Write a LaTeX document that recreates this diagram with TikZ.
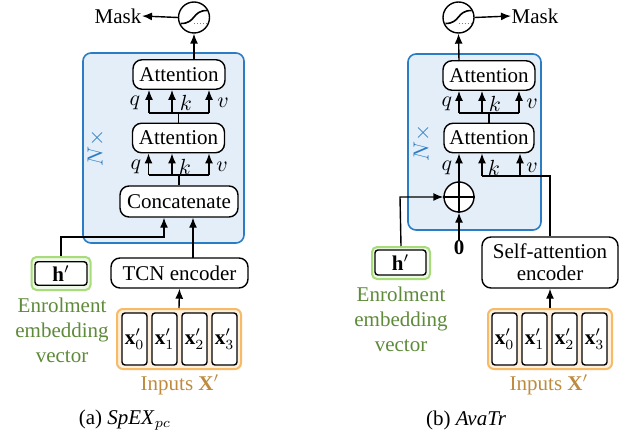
\documentclass[tikz,border=0pt]{standalone}
\usepackage{fontspec}
\setmainfont{Liberation Serif}
\usetikzlibrary{arrows.meta,calc}
\definecolor{blueB}{HTML}{2A7DC4}
\definecolor{blueF}{HTML}{E4EEF9}
\definecolor{greenB}{HTML}{A8DC7A}
\definecolor{greenF}{HTML}{EEF8E6}
\definecolor{greenT}{HTML}{5E8A3A}
\definecolor{orangeB}{HTML}{F7BA66}
\definecolor{orangeF}{HTML}{FDF0DE}
\definecolor{orangeT}{HTML}{BE8B3E}
\begin{document}
\begin{tikzpicture}[x=0.5pt,y=-0.5pt, font=\fontsize{10.5}{12.5}\selectfont, line width=0.7pt,
  arr/.style={-{Latex[length=5pt,width=4pt]}},
  rbox/.style={draw, rounded corners=4.5pt, fill=white, inner sep=0pt, align=center},
  attbox/.style={rbox, minimum width=46pt, minimum height=14.75pt},
  sig/.style={draw, circle, fill=white, minimum size=15.5pt, inner sep=0pt},
  sigcurve/.style={line width=0.8pt},
  sigdot/.style={gray, densely dotted, line width=0.5pt},
  blk/.style={draw=blueB, fill=blueF, rounded corners=4pt, line width=0.8pt},
  gbox/.style={draw=greenB, fill=greenF, rounded corners=2.5pt, line width=1pt, minimum width=29.5pt, minimum height=16.5pt, inner sep=0pt},
  hbox/.style={draw, fill=white, rounded corners=1.5pt, minimum width=26pt, minimum height=11.75pt, inner sep=0pt},
  obox/.style={draw=orangeB, fill=orangeF, rounded corners=3pt, line width=1pt, minimum width=62pt, minimum height=30pt, inner sep=0pt},
  xbox/.style={draw, fill=white, rounded corners=1.5pt, minimum width=12.5pt, minimum height=26pt, inner sep=0pt},
  lbl/.style={inner sep=0pt}
]
\useasboundingbox (0,0) rectangle (636,443);

%================ LEFT (a) =================
\draw[blk] (83,53) rectangle (244,243);
\node[text=blueB, rotate=90] (nL) at (96,148) {$N\times$};

\node[attbox] (att1L) at (179,74.5) {Attention};
\node[attbox] (att2L) at (178.5,138) {Attention};
\node[rbox, minimum width=59pt, minimum height=15.5pt] (catL) at (179,201.5) {Concatenate};
\node[rbox, minimum width=68.5pt, minimum height=15pt] (tcnL) at (179.5,273) {TCN encoder};

\node[sig] (sigL) at (194,17.5) {};
\draw[sigdot] ($(sigL)+(0,6)$) -- ($(sigL)+(13,6)$);
\draw[sigcurve] ($(sigL)+(-13,6)$) .. controls ($(sigL)+(2,6)$) and ($(sigL)+(-2,-7)$) .. ($(sigL)+(13,-7)$);
\node[lbl] (maskL) at (118,16) {Mask};

\node[gbox] (hgL) at (61,273.5) {};
\node[hbox] (hL) at (61,273.5) {$\mathbf{h}'$};
\node[text=greenT, align=center] (enL) at (62,330) {Enrolment\\embedding\\vector};

\node[obox] (inL) at (179,339) {};
\node[xbox] (x0L) at (134.5,339) {$\mathbf{x}'_0$};
\node[xbox] (x1L) at (164.5,339) {$\mathbf{x}'_1$};
\node[xbox] (x2L) at (194.5,339) {$\mathbf{x}'_2$};
\node[xbox] (x3L) at (224.5,339) {$\mathbf{x}'_3$};
\node[text=orangeT] (inTL) at (180,385) {Inputs $\mathbf{X}'$};

% connectors left
\coordinate (upL) at (194,60);
\draw[arr] (upL) -- (sigL.south);
\draw[arr] (sigL.west) -- (maskL.east);

\coordinate (b1L) at (178.5,113);
\coordinate (q1L) at (149,113);
\coordinate (k1L) at (172,113);
\coordinate (v1L) at (209,113);
\draw (att2L.north) -- (b1L);
\draw (q1L) -- (v1L);
\draw[arr] (q1L) -- (q1L |- att1L.south);
\draw[arr] (k1L) -- (k1L |- att1L.south);
\draw[arr] (v1L) -- (v1L |- att1L.south);
\node[lbl] at (135,103) {$q$};
\node[lbl] at (186,103) {$k$};
\node[lbl] at (223,103) {$v$};

\coordinate (b2L) at (179,175);
\coordinate (q2L) at (148.5,175);
\coordinate (k2L) at (172,175);
\coordinate (v2L) at (209,175);
\draw (catL.north) -- (b2L);
\draw (q2L) -- (v2L);
\draw[arr] (q2L) -- (q2L |- att2L.south);
\draw[arr] (k2L) -- (k2L |- att2L.south);
\draw[arr] (v2L) -- (v2L |- att2L.south);
\node[lbl] at (136,167) {$q$};
\node[lbl] at (185,167) {$k$};
\node[lbl] at (222,167) {$v$};

\coordinate (hcL) at (61,237);
\coordinate (hc2L) at (164,237);
\draw[arr] (hgL.north) -- (hcL) -- (hc2L) -- (hc2L |- catL.south);
\coordinate (tcL) at (193,258);
\draw[arr] (tcL) -- (tcL |- catL.south);
\draw[arr] (inL.north) -- (tcnL.south);

\node at (125,420) {(a) \textit{SpEX}$_{pc}$};

%================ RIGHT (b) =================
\draw[blk] (408,54) rectangle (541,230);
\node[text=blueB, rotate=90] (nR) at (422,143) {$N\times$};

\node[attbox] (att1R) at (489,75.5) {Attention};
\node[attbox, minimum width=45pt] (att2R) at (489,138) {Attention};
\node[draw, circle, fill=white, minimum size=15pt, inner sep=0pt] (plusR) at (459,197) {};
\draw (plusR.north) -- (plusR.south);
\draw (plusR.west) -- (plusR.east);
\node[lbl] (zeroR) at (459,248) {$\mathbf{0}$};

\node[rbox, minimum width=68pt, minimum height=25.5pt, font=\fontsize{10.5}{11}\selectfont] (saR) at (550,262.5) {Self-attention\\encoder};

\node[sig] (sigR) at (458.5,17.5) {};
\draw[sigdot] ($(sigR)+(0,6)$) -- ($(sigR)+(13,6)$);
\draw[sigcurve] ($(sigR)+(-13,6)$) .. controls ($(sigR)+(2,6)$) and ($(sigR)+(-2,-7)$) .. ($(sigR)+(13,-7)$);
\node[lbl] (maskR) at (535,16) {Mask};

\node[gbox, minimum width=29pt, minimum height=16pt] (hgR) at (401,263) {};
\node[hbox, minimum width=25.5pt, minimum height=12.5pt] (hR) at (400.5,262.5) {$\mathbf{h}'$};
\node[text=greenT, align=center] (enR) at (401,319.5) {Enrolment\\embedding\\vector};

\node[obox] (inR) at (550,339) {};
\node[xbox] (x0R) at (504.5,339) {$\mathbf{x}'_0$};
\node[xbox] (x1R) at (534.5,339) {$\mathbf{x}'_1$};
\node[xbox] (x2R) at (564.5,339) {$\mathbf{x}'_2$};
\node[xbox] (x3R) at (594.5,339) {$\mathbf{x}'_3$};
\node[text=orangeT] (inTR) at (549,385) {Inputs $\mathbf{X}'$};

% connectors right
\coordinate (upR) at (459,61);
\draw[arr] (upR) -- (sigR.south);
\draw[arr] (sigR.east) -- (maskR.west);

\coordinate (b1R) at (489,113);
\coordinate (q1R) at (459,113);
\coordinate (k1R) at (482,113);
\coordinate (v1R) at (519,113);
\draw (att2R.north) -- (b1R);
\draw (q1R) -- (v1R);
\draw[arr] (q1R) -- (q1R |- att1R.south);
\draw[arr] (k1R) -- (k1R |- att1R.south);
\draw[arr] (v1R) -- (v1R |- att1R.south);
\node[lbl] at (447,104) {$q$};
\node[lbl] at (495,104) {$k$};
\node[lbl] at (532,104) {$v$};

\draw[arr] (plusR.north) -- (plusR.north |- att2R.south);
\coordinate (kvR) at (550,176);
\coordinate (k2R) at (482,176);
\coordinate (v2R) at (520,176);
\draw (saR.north) -- (kvR) -- (k2R);
\draw[arr] (k2R) -- (k2R |- att2R.south);
\draw[arr] (v2R) -- (v2R |- att2R.south);
\node[lbl] at (447,168) {$q$};
\node[lbl] at (494,168) {$k$};
\node[lbl] at (532,168) {$v$};

\coordinate (hcR) at (400,197);
\draw[arr] (hgR.north) -- (hcR) -- (plusR.west);
\draw[arr] (zeroR.north) -- (plusR.south);
\draw[arr] (inR.north) -- (saR.south);

\node at (466,420) {(b) \textit{AvaTr}};
\end{tikzpicture}
\end{document}
